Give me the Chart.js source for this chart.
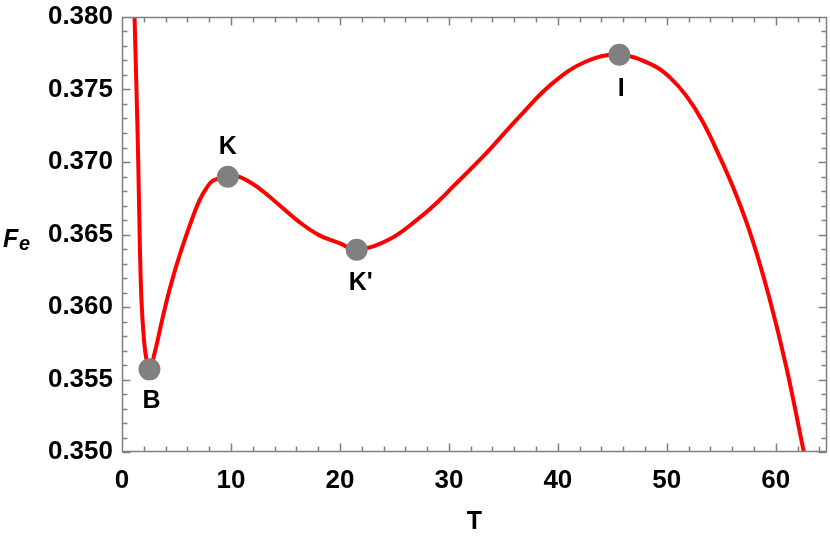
<!DOCTYPE html>
<html>
<head>
<meta charset="utf-8">
<script src="https://cdn.jsdelivr.net/npm/chart.js@4"></script>
<style>
html, body { margin: 0; padding: 0; background: #fff; overflow: hidden; }
#wrap { width: 830px; height: 547px; position: relative; }
#chart { display: block; }
</style>
</head>
<body>
<div id="wrap"><canvas id="chart"></canvas></div>
<script>
// curve F_e(T)
var curveT = [1.15, 1.33, 1.49, 1.65, 1.79, 2.0, 2.22, 2.52, 3.05, 3.74, 4.51, 5.43, 6.5, 7.11, 7.72, 8.33, 9.71,
              10.78, 12.61, 14.45, 16.28, 18.12, 19.95, 21.54, 24.54, 27.29, 29.13, 30.35, 33.41, 36.47,
              39.52, 42.59, 45.64, 48.67, 50.23, 51.79, 53.26, 54.82, 56.38, 57.84, 59.4, 60.96, 62.61];
var curveF = [0.380, 0.375, 0.370, 0.3639, 0.3604, 0.3579, 0.3565, 0.3557, 0.3570, 0.3593, 0.3616, 0.3639,
              0.36621, 0.36736, 0.36817, 0.3687, 0.36898, 0.36898, 0.36817, 0.36702, 0.36586, 0.36494, 0.36441,
              0.36395, 0.36467, 0.36615, 0.36736, 0.36828, 0.37059, 0.37313, 0.37544, 0.37693, 0.37739,
              0.3767, 0.37587, 0.37456, 0.37283, 0.37041, 0.36771, 0.36467, 0.36066, 0.35588, 0.34987];

// marked points
var pointT = [2.52, 9.71, 21.54, 45.64];
var pointF = [0.3557, 0.36898, 0.36395, 0.37739];
var pointNames = ['B', 'K', "K'", 'I'];

var xTicks = [0, 10, 20, 30, 40, 50, 60];
var yTicks = [0.350, 0.355, 0.360, 0.365, 0.370, 0.375, 0.380];

Chart.defaults.font.family = "'Liberation Sans', Arial, sans-serif";
Chart.defaults.color = '#000';

var curve = curveT.map(function (t, i) { return {x: t, y: curveF[i]}; });
var points = pointT.map(function (t, i) { return {x: t, y: pointF[i]}; });

// frame with inward ticks on all four sides
function drawFrame(chart) {
  var ctx = chart.ctx;
  var xs = chart.scales.x, ys = chart.scales.y;
  var L = Math.round(xs.left) + 0.5, R = Math.round(xs.right) - 0.5;
  var T = Math.round(ys.top) + 0.5, B = Math.round(ys.bottom) - 0.5;
  ctx.save();
  ctx.strokeStyle = '#808080';
  ctx.lineWidth = 1.5;
  ctx.beginPath();
  ctx.moveTo(L, T); ctx.lineTo(R, T); ctx.lineTo(R, B); ctx.lineTo(L, B); ctx.closePath();
  for (var v = 0; v <= 64; v += 2) {
    var px = Math.round(xs.getPixelForValue(v)) + 0.5;
    var len = v % 10 == 0 ? 8 : 5;
    ctx.moveTo(px, B); ctx.lineTo(px, B - len);
    ctx.moveTo(px, T); ctx.lineTo(px, T + len);
  }
  for (var k = 350; k <= 380; k++) {
    var py = Math.round(ys.getPixelForValue(k / 1000)) + 0.5;
    var l = k % 5 == 0 ? 8 : 5;
    ctx.moveTo(L, py); ctx.lineTo(L + l, py);
    ctx.moveTo(R, py); ctx.lineTo(R - l, py);
  }
  ctx.stroke();
  ctx.restore();
}

var decor = {
  id: 'decor',
  afterDraw: function (chart) {
    drawFrame(chart);
    var ctx = chart.ctx;
    var xs = chart.scales.x, ys = chart.scales.y;
    var dx = [2, 0, 4, 2];
    var dy = [32, -30, 33, 34];
    ctx.save();
    ctx.fillStyle = '#000';
    ctx.font = "bold 25px 'Liberation Sans', Arial";
    ctx.textAlign = 'center';
    ctx.textBaseline = 'middle';
    for (var i = 0; i < pointNames.length; i++) {
      var px = xs.getPixelForValue(pointT[i]);
      var py = ys.getPixelForValue(pointF[i]);
      ctx.fillText(pointNames[i], px + dx[i], py + dy[i]);
    }
    ctx.textAlign = 'left';
    ctx.textBaseline = 'alphabetic';
    ctx.font = "italic bold 25px 'Liberation Sans', Arial";
    ctx.fillText('F', 3, 247);
    ctx.font = "italic bold 20px 'Liberation Sans', Arial";
    ctx.fillText('e', 19, 250);
    ctx.restore();
  }
};

new Chart(document.getElementById('chart'), {
  type: 'line',
  data: {
    datasets: [{
      data: points,
      showLine: false,
      pointRadius: 11,
      pointHoverRadius: 11,
      pointBackgroundColor: '#808080',
      pointBorderWidth: 0,
      clip: false
    }, {
      data: curve,
      borderColor: '#ff0000',
      borderWidth: 4,
      pointRadius: 0,
      tension: 0.4,
      fill: false,
      clip: 0
    }]
  },
  options: {
    responsive: true,
    maintainAspectRatio: false,
    animation: false,
    devicePixelRatio: 1,
    layout: { autoPadding: false, padding: { top: 17, right: 3, left: 0, bottom: 0 } },
    plugins: { legend: { display: false }, tooltip: { enabled: false } },
    scales: {
      x: {
        type: 'linear',
        min: 0,
        max: 64.7,
        afterBuildTicks: function (s) { s.ticks = xTicks.map(function (v) { return {value: v}; }); },
        afterFit: function (s) { s.height = 95; s.paddingLeft = 0; s.paddingRight = 0; },
        grid: { display: false, drawTicks: false },
        border: { display: false },
        ticks: { font: { size: 26, weight: 'bold' }, padding: 13, maxRotation: 0 },
        title: { display: true, text: 'T', font: { size: 25, weight: 'bold' }, padding: { top: 0, bottom: 10 } }
      },
      y: {
        type: 'linear',
        min: 0.35,
        max: 0.38,
        afterBuildTicks: function (s) { s.ticks = yTicks.map(function (v) { return {value: v}; }); },
        afterFit: function (s) { s.width = 122; s.paddingTop = 0; s.paddingBottom = 0; },
        grid: { display: false, drawTicks: false },
        border: { display: false },
        ticks: {
          font: { size: 26, weight: 'bold' },
          padding: 9,
          callback: function (v) { return v.toFixed(3); }
        }
      }
    }
  },
  plugins: [decor]
});
</script>
</body>
</html>
